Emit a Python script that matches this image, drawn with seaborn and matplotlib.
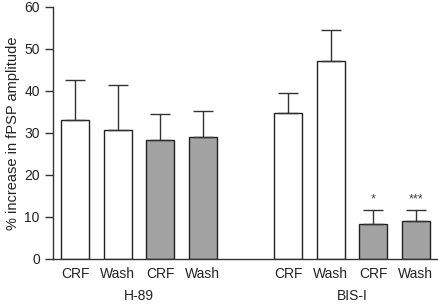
import pandas as pd
import numpy as np
import matplotlib
matplotlib.use('Agg')
import matplotlib.pyplot as plt
import seaborn as sns

# data
conditions = ['CRF', 'Wash', 'CRF', 'Wash', 'CRF', 'Wash', 'CRF', 'Wash']
groups = ['H-89', 'H-89', 'H-89', 'H-89', 'BIS-I', 'BIS-I', 'BIS-I', 'BIS-I']
treated = ['no', 'no', 'yes', 'yes', 'no', 'no', 'yes', 'yes']
means = [33.1, 30.7, 28.3, 29.1, 34.8, 47.1, 8.4, 9.0]
sems = [9.5, 10.6, 6.2, 6.0, 4.6, 7.3, 3.3, 2.7]
stars = ['', '', '', '', '', '', '*', '***']
positions = [0, 1, 2, 3, 5, 6, 7, 8]

df = pd.DataFrame({'pos': positions, 'mean': means, 'sem': sems,
                   'cond': conditions, 'group': groups, 'treated': treated})

sns.set_style('ticks')
plt.rcParams['font.family'] = ['Liberation Sans', 'DejaVu Sans']

fig = plt.figure(figsize=(4.38, 3.05), dpi=100)
ax = fig.add_axes([0.121, 0.151, 0.877, 0.827])

sns.barplot(data=df, x='pos', y='mean', hue='treated', native_scale=True,
            palette={'no': 'white', 'yes': '#a3a3a3'}, width=0.66, dodge=False,
            edgecolor='#222222', linewidth=1.0, legend=False, ax=ax)

ax.errorbar(df['pos'], df['mean'], yerr=[np.zeros(len(df)), df['sem']],
            fmt='none', ecolor='#333333', elinewidth=1.0, capsize=7.5, capthick=1.0)

for p, m, s, st in zip(df['pos'], df['mean'], df['sem'], stars):
    if st:
        ax.text(p, m + s + 1.0, st, ha='center', va='bottom', fontsize=9, color='#444444')

ax.set_ylim(0, 60)
ax.set_xlim(-0.52, 8.5)
ax.set_yticks(range(0, 61, 10))
ax.set_xticks(positions)
ax.set_xticklabels(conditions)
ax.tick_params(axis='x', length=0, pad=6, labelsize=10, labelcolor='#222222')
ax.tick_params(axis='y', length=6, width=1, labelsize=10, color='#333333', labelcolor='#222222')
ax.set_xlabel('')
ax.set_ylabel('% increase in fPSP amplitude', fontsize=10.5, labelpad=3, color='#222222')
for side in ['left', 'bottom']:
    ax.spines[side].set_color('#333333')
    ax.spines[side].set_linewidth(1)
sns.despine(ax=ax)

ax.text(1.5, -0.146, 'H-89', transform=ax.get_xaxis_transform(), ha='center', va='center',
        fontsize=10, color='#222222')
ax.text(6.5, -0.146, 'BIS-I', transform=ax.get_xaxis_transform(), ha='center', va='center',
        fontsize=10, color='#222222')

fig.savefig('out.png', dpi=100)
